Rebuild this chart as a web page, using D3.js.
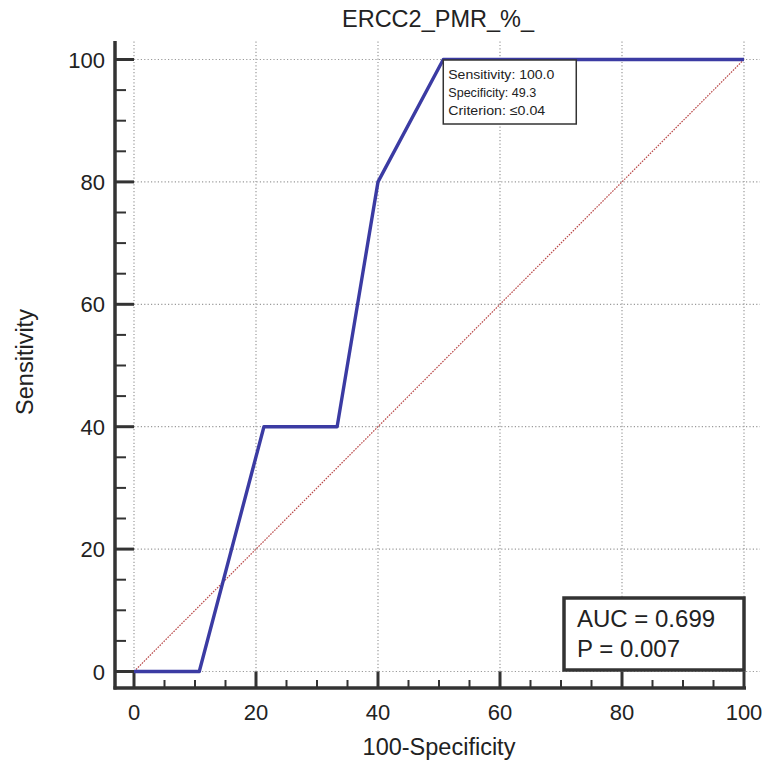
<!DOCTYPE html>
<html>
<head>
<meta charset="utf-8">
<script src="https://cdn.jsdelivr.net/npm/d3@7"></script>
<style>
  body { margin: 0; background: #fff; }
  text { font-family: "Liberation Sans", Arial, sans-serif; fill: #222; }
</style>
</head>
<body>
<svg id="chart" width="766" height="769"></svg>
<script>
// ROC points (100-Specificity, Sensitivity)
const fpr = [0, 10.7, 21.3, 33.3, 40, 50.7, 100];
const tpr = [0, 0, 40, 40, 80, 100, 100];
const majorTicks = [0, 20, 40, 60, 80, 100];
const minorTicks = d3.range(0, 101, 5).filter(d => d % 20 !== 0);
const title = "ERCC2_PMR_%_";
const xLabel = "100-Specificity";
const yLabel = "Sensitivity";
const boxLines = ["Sensitivity: 100.0", "Specificity: 49.3", "Criterion: \u22640.04"];
const statLines = ["AUC = 0.699", "P = 0.007"];
const cut = { x: 50.7, y: 100 };

const svg = d3.select("#chart");
const x = d3.scaleLinear().domain([0, 100]).range([134, 744]);
const y = d3.scaleLinear().domain([0, 100]).range([671.5, 59.5]);
const axisX = 115, axisY = 688;

// grid
const grid = svg.append("g").attr("stroke", "#9a9a9a").attr("stroke-width", 1.2).attr("stroke-dasharray", "1.2,2.2");
grid.selectAll("line.v").data(majorTicks).join("line")
  .attr("class", "v")
  .attr("x1", d => x(d)).attr("x2", d => x(d))
  .attr("y1", y(100) - 18).attr("y2", y(0))
grid.selectAll("line.h").data(majorTicks).join("line")
  .attr("class", "h")
  .attr("y1", d => y(d)).attr("y2", d => y(d))
  .attr("x1", x(0)).attr("x2", x(100) + 16)

// diagonal
svg.append("line")
  .attr("x1", x(0)).attr("y1", y(0)).attr("x2", x(100)).attr("y2", y(100))
  .attr("stroke", "#b94848").attr("stroke-width", 1.2).attr("stroke-dasharray", "1.6,1.2")

// axes lines
const ax = svg.append("g").attr("stroke", "#333").attr("fill", "none");
ax.append("line").attr("x1", axisX).attr("x2", axisX).attr("y1", 41).attr("y2", axisY + 1.5).attr("stroke-width", 3.5)
ax.append("line").attr("x1", axisX - 1.5).attr("x2", x(100) + 2).attr("y1", axisY).attr("y2", axisY).attr("stroke-width", 3.5)
// x ticks
ax.selectAll("line.xm").data(majorTicks).join("line")
  .attr("class", "xm")
  .attr("x1", d => x(d)).attr("x2", d => x(d)).attr("y1", y(0)).attr("y2", axisY).attr("stroke-width", 3)
ax.selectAll("line.xn").data(minorTicks).join("line")
  .attr("class", "xn")
  .attr("x1", d => x(d)).attr("x2", d => x(d)).attr("y1", axisY - 8).attr("y2", axisY).attr("stroke-width", 2)
// y ticks
ax.selectAll("line.ym").data(majorTicks).join("line")
  .attr("class", "ym")
  .attr("y1", d => y(d)).attr("y2", d => y(d)).attr("x1", axisX).attr("x2", x(0)).attr("stroke-width", 3)
ax.selectAll("line.yn").data(minorTicks).join("line")
  .attr("class", "yn")
  .attr("y1", d => y(d)).attr("y2", d => y(d)).attr("x1", axisX).attr("x2", axisX + 11).attr("stroke-width", 2)

// tick labels
svg.append("g").selectAll("text").data(majorTicks).join("text")
  .attr("x", d => x(d)).attr("y", 720).attr("text-anchor", "middle")
  .attr("font-size", 22).text(d => d)
svg.append("g").selectAll("text").data(majorTicks).join("text")
  .attr("x", 105).attr("y", d => y(d) + 8).attr("text-anchor", "end")
  .attr("font-size", 22).text(d => d)

// axis titles
svg.append("text").attr("x", 439).attr("y", 755).attr("text-anchor", "middle")
  .attr("font-size", 23.5).text(xLabel)
svg.append("text").attr("transform", "translate(33,362) rotate(-90)")
  .attr("text-anchor", "middle").attr("font-size", 23.5).text(yLabel)
svg.append("text").attr("x", 438).attr("y", 27).attr("text-anchor", "middle")
  .attr("font-size", 23.5).text(title)

// ROC curve
const line = d3.line().x((d, i) => x(fpr[i])).y((d, i) => y(tpr[i]));
svg.append("path").datum(fpr).attr("d", line)
  .attr("fill", "none").attr("stroke", "#3b3ba3").attr("stroke-width", 3.4).attr("stroke-linejoin", "round")

// criterion box
const bx = x(cut.x), by = y(cut.y) + 0.5;
svg.append("rect").attr("x", bx).attr("y", by).attr("width", 133).attr("height", 64)
  .attr("fill", "#fff").attr("stroke", "#333").attr("stroke-width", 1.5)
svg.append("g").selectAll("text").data(boxLines).join("text")
  .attr("x", bx + 5).attr("y", (d, i) => by + 19 + i * 18)
  .attr("font-size", 13.5).attr("textLength", (d, i) => [106, 88, 97][i])
  .attr("lengthAdjust", "spacingAndGlyphs").text(d => d)

// stats box
svg.append("rect").attr("x", 564).attr("y", 598).attr("width", 180).attr("height", 72)
  .attr("fill", "#fff").attr("stroke", "#333").attr("stroke-width", 3.5)
svg.append("g").selectAll("text").data(statLines).join("text")
  .attr("x", 577).attr("y", (d, i) => 627 + i * 29.5)
  .attr("font-size", 24).text(d => d)
</script>
</body>
</html>
